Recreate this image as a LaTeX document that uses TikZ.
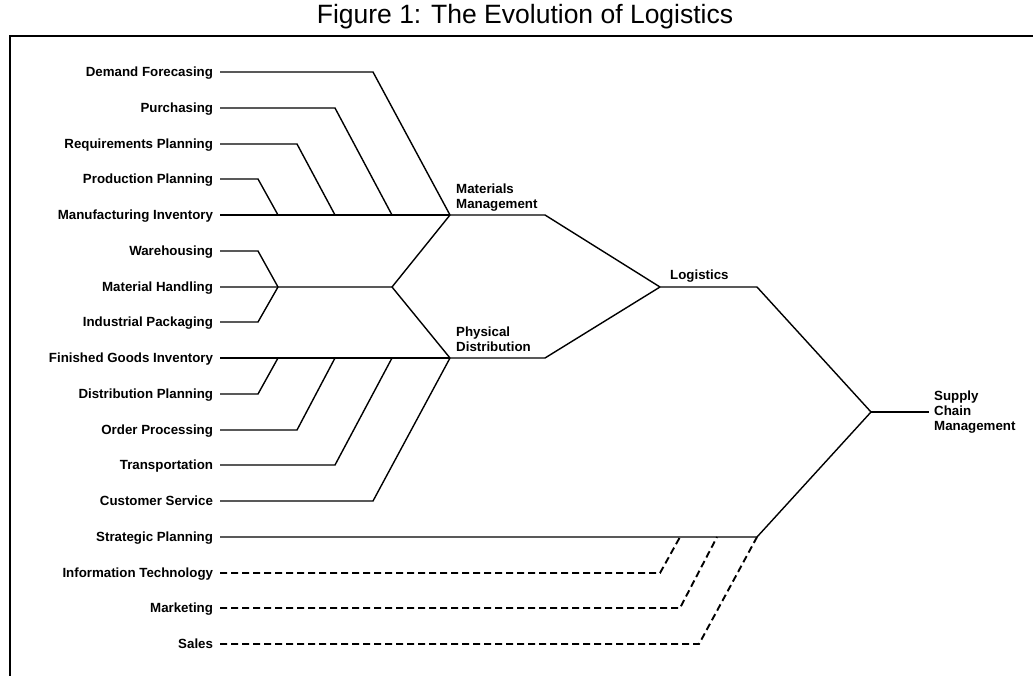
\documentclass[tikz,border=0pt]{standalone}
\usepackage{fontspec}
\setmainfont{Liberation Sans}
\usepackage{tikz}
\usetikzlibrary{positioning,calc}

\begin{document}
\begin{tikzpicture}[
    x=1pt, y=-1pt,
    lbl/.style={anchor=east, inner sep=0pt, outer xsep=7pt, text height=9.5pt, text depth=0pt, font=\fontsize{13.3}{15.4}\selectfont\bfseries},
    hub/.style={inner sep=0pt, align=left, font=\fontsize{13.3}{15.4}\selectfont\bfseries},
    branch/.style={line width=1.4pt, line join=miter},
    soft/.style={line width=1.9pt, dash pattern=on 7pt off 4pt},
    frame/.style={line width=2pt}
]
\useasboundingbox (0,0) rectangle (1033,675);

% Title and frame
\node (title) at (525,17) {\fontsize{26.5}{30}\selectfont Figure 1: The Evolution of Logistics};
\draw[frame] (10,676) -- (10,36) -- (1034,36);

% Junctions
\coordinate (mm) at (450,215);
\coordinate (wg) at (278,287);
\coordinate (mhub) at (392,287);
\coordinate (pd) at (450,358);
\coordinate (lg) at (660,287);
\coordinate (scm) at (871,412);
\coordinate (spj) at (757,537);

% Left column - activities
\node[lbl] (df) at (220,72) {Demand Forecasing};
\node[lbl] (pu) at (220,108) {Purchasing};
\node[lbl] (rp) at (220,144) {Requirements Planning};
\node[lbl] (pp) at (220,179) {Production Planning};
\node[lbl] (mi) at (220,215) {Manufacturing Inventory};
\node[lbl] (wh) at (220,251) {Warehousing};
\node[lbl] (mh) at (220,287) {Material Handling};
\node[lbl] (ip) at (220,322) {Industrial Packaging};
\node[lbl] (fg) at (220,358) {Finished Goods Inventory};
\node[lbl] (dp) at (220,394) {Distribution Planning};
\node[lbl] (op) at (220,430) {Order Processing};
\node[lbl] (tr) at (220,465) {Transportation};
\node[lbl] (cs) at (220,501) {Customer Service};
\node[lbl] (sp) at (220,537) {Strategic Planning};
\node[lbl] (it) at (220,573) {Information Technology};
\node[lbl] (mk) at (220,608) {Marketing};
\node[lbl] (sa) at (220,644) {Sales};

% Hub labels
\node[hub, anchor=south west, above right=3pt and 6pt of mm] (mmlbl) {Materials\\Management};
\node[hub, anchor=south west, above right=6pt and 6pt of pd] (pdlbl) {Physical\\Distribution};
\node[hub, anchor=south west, above right=4pt and 10pt of lg] (lglbl) {Logistics};
\node[hub, anchor=west, right=63pt of scm] (scmlbl) {Supply\\Chain\\Management};

% Materials management
\draw[branch] (df.east) -- (373,72) -- (mm);
\draw[branch] (pu.east) -- (335,108) -- (392,215);
\draw[branch] (rp.east) -- (297,144) -- (335,215);
\draw[branch] (pp.east) -- (258,179) -- (278,215);
\draw[branch] (mi.east) -- (mm);

% Shared group
\draw[branch] (wh.east) -- (258,251) -- (wg);
\draw[branch] (ip.east) -- (258,322) -- (wg);
\draw[branch] (mh.east) -- (mhub) -- (mm);
\draw[branch] (mhub) -- (pd);

% Physical distribution
\draw[branch] (fg.east) -- (pd);
\draw[branch] (dp.east) -- (258,394) -- (278,358);
\draw[branch] (op.east) -- (297,430) -- (335,358);
\draw[branch] (tr.east) -- (335,465) -- (392,358);
\draw[branch] (cs.east) -- (373,501) -- (pd);

% Logistics and supply chain
\draw[branch] (mm) -- (545,215) -- (lg);
\draw[branch] (pd) -- (545,358) -- (lg);
\draw[branch] (lg) -- (757,287) -- (scm);
\draw[branch] (scm) -- ([xshift=-5pt]scmlbl.west);
\draw[branch] (sp.east) -- (spj) -- (scm);

% Dashed inputs
\draw[soft] (it.east) -- (660,573) -- (680,537);
\draw[soft] (mk.east) -- (680,608) -- (717,537);
\draw[soft] (sa.east) -- (699,644) -- (spj);

\end{tikzpicture}
\end{document}
